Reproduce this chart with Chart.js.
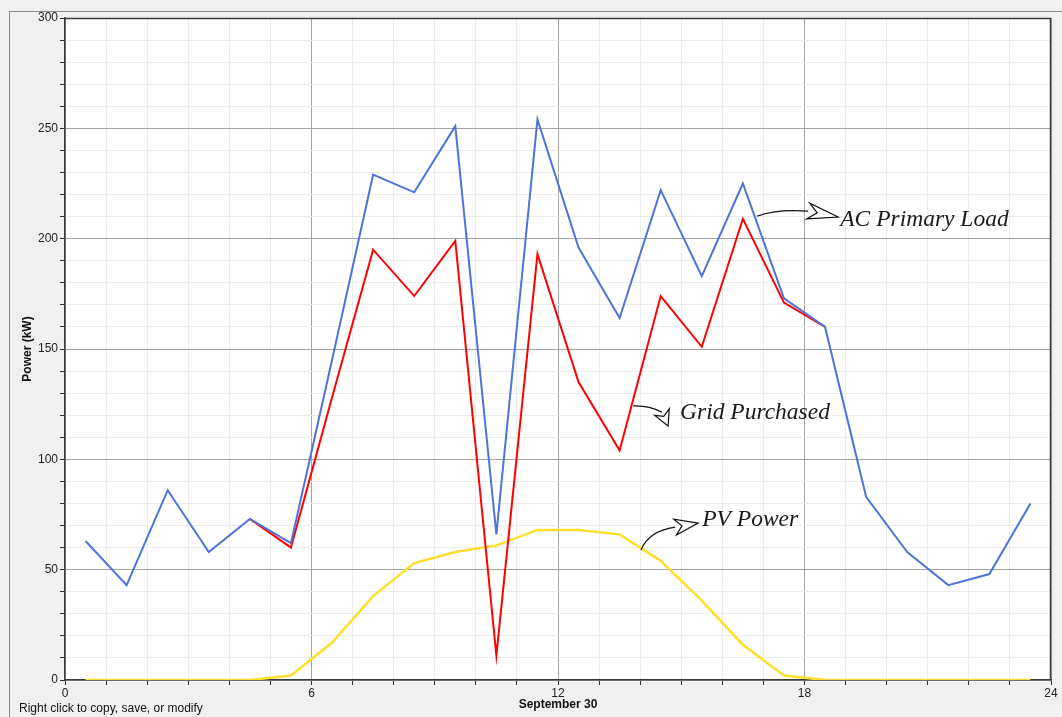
<!DOCTYPE html>
<html>
<head>
<meta charset="utf-8">
<script src="https://cdn.jsdelivr.net/npm/chart.js@4.4.1/dist/chart.umd.min.js"></script>
<style>
html,body{margin:0;padding:0;background:#f0f0f0;}
#wrap{position:relative;width:1062px;height:717px;}
canvas{display:block;}
</style>
</head>
<body>
<div id="wrap"><canvas id="c" width="1062" height="717"></canvas></div>
<script>
const hours = [0.5,1.5,2.5,3.5,4.5,5.5,6.5,7.5,8.5,9.5,10.5,11.5,12.5,13.5,14.5,15.5,16.5,17.5,18.5,19.5,20.5,21.5,22.5,23.5];
const acPrimaryLoad = [63,43,86,58,73,62,145,229,221,251,66,254,196,164,222,183,225,173,160,83,58,43,48,80];
const gridPurchased = [63,43,86,58,73,60,128,195,174,199,11,193,135,104,174,151,209,171,160,83,58,43,48,80];
const pvPower = [0,0,0,0,0,2,17,38,53,58,61,68,68,66,54,36,16,2,0,0,0,0,0,0];
const xTickLabels = [0,6,12,18,24];
const yTickLabels = [0,50,100,150,200,250,300];
const seriesNames = ['AC Primary Load','Grid Purchased','PV Power'];
const xTitle = 'September 30';
const yTitle = 'Power (kW)';
const footer = 'Right click to copy, save, or modify';

// annotation anchors in data units
const notes = [
  {text: seriesNames[0], from:[16.85,210.2], mid:[17.3,213.5], base:[18.09,212.5], tip:[18.82,209.8], at:[18.87,208.6]},
  {text: seriesNames[1], from:[13.83,124.2], mid:[14.2,124.5], base:[14.53,121.4], tip:[14.68,115.1], at:[14.97,121.2]},
  {text: seriesNames[2], from:[14.02,58.9], mid:[14.2,67.5], base:[14.85,69.3], tip:[15.41,71.1], at:[15.51,72.6]}
];

const pts = ys => hours.map((h,i)=>({x:h,y:ys[i]}));

const bgPlugin = {
  id:'bg',
  beforeDraw(chart){
    const ctx = chart.ctx, a = chart.chartArea;
    ctx.save();
    ctx.fillStyle = '#f0f0f0';
    ctx.fillRect(0,0,chart.width,chart.height);
    ctx.strokeStyle = '#8a8a8a';
    ctx.lineWidth = 1;
    ctx.strokeRect(9.5,11.5,chart.width+20,chart.height+20);
    ctx.fillStyle = '#ffffff';
    ctx.fillRect(a.left,a.top,a.right-a.left,a.bottom-a.top);
    ctx.restore();
  },
  afterDraw(chart){
    const ctx = chart.ctx, a = chart.chartArea;
    const xs = chart.scales.x, ys = chart.scales.y;
    const P = d => [xs.getPixelForValue(d[0]), ys.getPixelForValue(d[1])];
    ctx.save();
    ctx.strokeStyle = '#3a3a3a';
    ctx.lineWidth = 1.5;
    ctx.beginPath();
    ctx.moveTo(a.left, a.top+0.5); ctx.lineTo(a.right, a.top+0.5);
    ctx.moveTo(a.right-0.5, a.top); ctx.lineTo(a.right-0.5, a.bottom);
    ctx.stroke();
    // axis titles & footer
    ctx.fillStyle = '#111';
    ctx.font = 'bold 12px "Liberation Sans", Arial, sans-serif';
    ctx.textAlign = 'center'; ctx.textBaseline = 'middle';
    ctx.fillText(xTitle, (a.left+a.right)/2, 705);
    ctx.save();
    ctx.translate(28, (a.top+a.bottom)/2);
    ctx.rotate(-Math.PI/2);
    ctx.fillText(yTitle, 0, 0);
    ctx.restore();
    ctx.font = '12px "Liberation Sans", Arial, sans-serif';
    ctx.textAlign = 'left';
    ctx.fillText(footer, 19, 709);
    // annotations
    notes.forEach(n=>{
      const [sx,sy] = P(n.from), [mx,my] = P(n.mid), [bx,by] = P(n.base), [tx,ty] = P(n.tip), [lx,ly] = P(n.at);
      ctx.strokeStyle = '#111'; ctx.lineWidth = 1.2;
      ctx.beginPath();
      ctx.moveTo(sx, sy);
      ctx.quadraticCurveTo(mx, my, bx, by);
      ctx.stroke();
      // hollow arrow head
      const dx = tx-bx, dy = ty-by, L = Math.hypot(dx,dy);
      const ux = dx/L, uy = dy/L, px = -uy, py = ux, w = 8;
      ctx.beginPath();
      ctx.moveTo(bx + px*w, by + py*w);
      ctx.lineTo(tx, ty);
      ctx.lineTo(bx - px*w, by - py*w);
      ctx.lineTo(bx + ux*L*0.3, by + uy*L*0.3);
      ctx.closePath();
      ctx.fillStyle = '#fff';
      ctx.fill();
      ctx.stroke();
      ctx.fillStyle = '#1a1a1a';
      ctx.font = 'italic 23.5px "Liberation Serif", "Times New Roman", serif';
      ctx.textAlign = 'left'; ctx.textBaseline = 'middle';
      ctx.fillText(n.text, lx, ly);
    });
    ctx.restore();
  }
};

new Chart(document.getElementById('c'), {
  type:'line',
  data:{
    datasets:[
      {label:seriesNames[0], data:pts(acPrimaryLoad), borderColor:'#4f74d9', borderWidth:2, pointRadius:0, tension:0, fill:false},
      {label:seriesNames[1], data:pts(gridPurchased), borderColor:'#ff0000', borderWidth:2, pointRadius:0, tension:0, fill:false,
        segment:{borderColor: c => (gridPurchased[c.p0DataIndex]===acPrimaryLoad[c.p0DataIndex] && gridPurchased[c.p1DataIndex]===acPrimaryLoad[c.p1DataIndex]) ? 'rgba(0,0,0,0)' : undefined}},
      {label:seriesNames[2], data:pts(pvPower), borderColor:'#ffde2e', borderWidth:2.5, pointRadius:0, tension:0, fill:false}
    ]
  },
  plugins:[bgPlugin],
  options:{
    responsive:false,
    animation:false,
    events:[],
    layout:{padding:{left:0,top:18,right:11,bottom:0}},
    plugins:{legend:{display:false}, tooltip:{enabled:false}},
    scales:{
      x:{
        type:'linear', min:0, max:24,
        afterBuildTicks(s){ s.ticks = Array.from({length:25},(_,i)=>({value:i})); },
        afterFit(s){ s.height = 37; },
        ticks:{
          autoSkip:false, maxRotation:0, padding:1, color:'#222',
          font:{size:12, family:'"Liberation Sans", Arial, sans-serif'},
          callback:v => xTickLabels.includes(v) ? String(v) : ''
        },
        grid:{
          color: c => (c.tick && c.tick.value % 6 === 0) ? '#a3a3a3' : '#ececec',
          lineWidth:1, tickLength:5, tickColor:'#333', drawOnChartArea:true
        },
        border:{display:true, color:'#3a3a3a', width:1.5}
      },
      y:{
        type:'linear', min:0, max:300,
        afterBuildTicks(s){ s.ticks = Array.from({length:31},(_,i)=>({value:i*10})); },
        afterFit(s){ s.width = 65; },
        ticks:{
          autoSkip:false, padding:2, color:'#222',
          font:{size:12, family:'"Liberation Sans", Arial, sans-serif'},
          callback:v => yTickLabels.includes(v) ? String(v) : ''
        },
        grid:{
          color: c => (c.tick && c.tick.value % 50 === 0) ? '#a3a3a3' : '#ececec',
          lineWidth:1, tickLength:5, tickColor:'#333'
        },
        border:{display:true, color:'#3a3a3a', width:1.5}
      }
    }
  }
});
</script>
</body>
</html>
